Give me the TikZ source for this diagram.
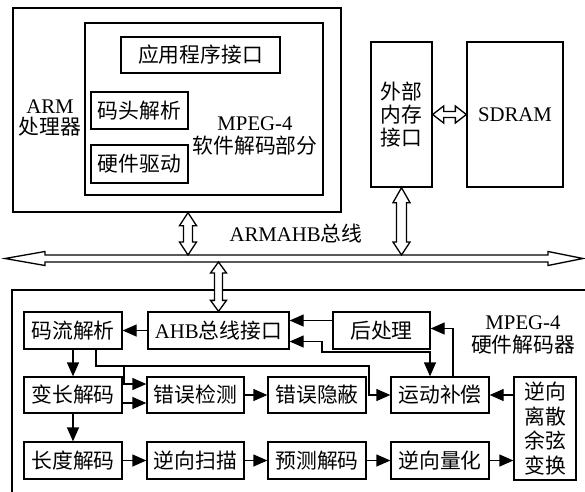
\documentclass[tikz,border=0pt]{standalone}
\usepackage{fontspec}
\setmainfont{Liberation Serif}
\newfontfamily\cjk{Noto Sans CJK SC}
\usetikzlibrary{arrows.meta,calc}
\newcommand\zh[1]{{\cjk #1}}
% vertical hollow double arrow: #1 top, #2 bottom, #3 shaft half, #4 head half, #5 top head len, #6 bottom head len
\newcommand\hollowV[6]{\draw[hol] let \p1=#1, \p2=#2 in
 (\x1,\y1) -- (\x1+#4,\y1-#5) -- (\x1+#3,\y1-#5) -- (\x1+#3,\y2+#6) -- (\x1+#4,\y2+#6) -- (\x1,\y2)
 -- (\x1-#4,\y2+#6) -- (\x1-#3,\y2+#6) -- (\x1-#3,\y1-#5) -- (\x1-#4,\y1-#5) -- cycle;}
% horizontal hollow double arrow: #1 left, #2 right
\newcommand\hollowH[6]{\draw[hol] let \p1=#1, \p2=#2 in
 (\x1,\y1) -- (\x1+#5,\y1+#4) -- (\x1+#5,\y1+#3) -- (\x2-#6,\y1+#3) -- (\x2-#6,\y1+#4) -- (\x2,\y1)
 -- (\x2-#6,\y1-#4) -- (\x2-#6,\y1-#3) -- (\x1+#5,\y1-#3) -- (\x1+#5,\y1-#4) -- cycle;}
\begin{document}
\begin{tikzpicture}[x=1pt,y=-1pt,
  box/.style={draw, line width=1.3pt, inner sep=0pt, font=\fontsize{20.8}{23}\selectfont, align=center},
  lbl/.style={inner sep=0pt, font=\fontsize{20.8}{23}\selectfont, align=center},
  arr/.style={line width=1.3pt, -{Triangle[length=14pt,width=12pt]}},
  arr2/.style={line width=1.3pt, {Triangle[length=14pt,width=12pt]}-{Triangle[length=14pt,width=12pt]}},
  hol/.style={line width=1.3pt, fill=white, line join=miter}]
\useasboundingbox[fill=white] (0,0) rectangle (585,491);

% ---- top: ARM processor
\node[box, minimum width=328pt, minimum height=204pt] (arm) at (177,110) {};
\node[lbl, font=\fontsize{20.8}{21.5}\selectfont] (armlbl) at (50,118) {ARM\\\zh{处理器}};
\node[box, minimum width=238pt, minimum height=172pt] (sw) at (204,109) {};
\node[box, minimum width=159pt, minimum height=36pt] (api) at (200.5,55) {\zh{应用程序接口}};
\node[box, minimum width=97pt, minimum height=37pt] (hdr) at (139.5,110.5) {\zh{码头解析}};
\node[box, minimum width=97pt, minimum height=38pt] (drv) at (139.5,164) {\zh{硬件驱动}};
\node[lbl] (swlbl) at (255,136) {MPEG-4\\\zh{软件解码部分}};

\node[box, minimum width=61pt, minimum height=145pt] (emi) at (401.5,114.5) {\zh{外部}\\\zh{内存}\\\zh{接口}};
\node[box, minimum width=96pt, minimum height=145pt] (sdram) at (515,114.5) {SDRAM};

% ---- bus
\coordinate (bus-l) at (5,258.5);
\coordinate (bus-r) at (583,258.5);
\coordinate (bustop) at (0,255);
\coordinate (busbot) at (0,262);
\hollowH{(bus-l)}{(bus-r)}{3.5pt}{7pt}{40pt}{35pt}
\node[lbl] (buslbl) at (296,234) {ARMAHB\zh{总线}};

\hollowV{(188,0 |- arm.south)}{(188,0 |- bustop)}{4.5pt}{8.5pt}{13pt}{13pt}
\hollowV{(emi.south)}{(emi.south |- bustop)}{5pt}{8.5pt}{15pt}{13pt}
\hollowH{(emi.east)}{(sdram.west)}{3pt}{8.5pt}{11pt}{11pt}

% ---- lower: hardware decoder
\coordinate (hwtl) at (12,290);
\draw[line width=1.3pt] (600,290) -- (hwtl) -- (12,500);
\node[lbl] (hwlbl) at (523,335) {MPEG-4\\\zh{硬件解码器}};

\node[box, minimum width=98pt, minimum height=37pt] (mlj) at (73,330.5) {\zh{码流解析}};
\node[box, minimum width=141pt, minimum height=37pt] (ahb) at (218.5,330.5) {AHB\zh{总线接口}};
\node[box, minimum width=97pt, minimum height=37pt] (post) at (381.5,330.5) {\zh{后处理}};
\node[box, minimum width=98pt, minimum height=36pt] (vld) at (73,395) {\zh{变长解码}};
\node[box, minimum width=97pt, minimum height=36pt] (errd) at (195.5,395) {\zh{错误检测}};
\node[box, minimum width=98pt, minimum height=36pt] (errc) at (317,395) {\zh{错误隐蔽}};
\node[box, minimum width=98pt, minimum height=36pt] (mc) at (440,395) {\zh{运动补偿}};
\node[box, minimum width=62pt, minimum height=103pt, font=\fontsize{20.8}{24.5}\selectfont] (idct) at (545,428.5) {\zh{逆向}\\\zh{离散}\\\zh{余弦}\\\zh{变换}};
\node[box, minimum width=98pt, minimum height=37pt] (len) at (73,460.5) {\zh{长度解码}};
\node[box, minimum width=97pt, minimum height=37pt] (scan) at (195.5,460.5) {\zh{逆向扫描}};
\node[box, minimum width=98pt, minimum height=37pt] (pred) at (317,460.5) {\zh{预测解码}};
\node[box, minimum width=98pt, minimum height=37pt] (iq) at (440,460.5) {\zh{逆向量化}};

\hollowV{(ahb.north |- busbot)}{(ahb.north)}{4pt}{8pt}{11pt}{11pt}

% ---- connectors
\draw[arr] (ahb.west) -- (mlj.east);
\draw[arr] (mlj.south) -- (vld.north);
\draw[arr] (vld.south) -- (len.north);
\draw[arr] (len.east) -- (scan.west);
\draw[arr] (scan.east) -- (pred.west);
\draw[arr] (pred.east) -- (iq.west);
\draw[arr] (iq.east) -- (iq.east -| idct.west);
\draw[arr] (errd.east) -- (errc.west);
\draw[arr] (mc.east -| idct.west) -- (mc.east);
\draw[arr] ([yshift=-8pt]vld.east) -- ([yshift=-8pt]errd.west);
\coordinate (r1) at (369,366);
\coordinate (b1) at (124,366);
\draw[arr] ([xshift=23pt]mlj.south) |- (r1) |- (mc.west);
\draw[arr] (b1) |- ([yshift=11pt]errd.west);
\coordinate (k1) at (322,352);
\draw[arr2] ([yshift=-11pt]ahb.east) -| (k1) -| ([xshift=-10pt]mc.north);
\draw[arr] ([xshift=13pt]mc.north) |- ([yshift=2pt]post.east);
\draw[arr] ([yshift=10pt]post.west) -- ([yshift=10pt]post.west -| ahb.east);
\end{tikzpicture}
\end{document}
